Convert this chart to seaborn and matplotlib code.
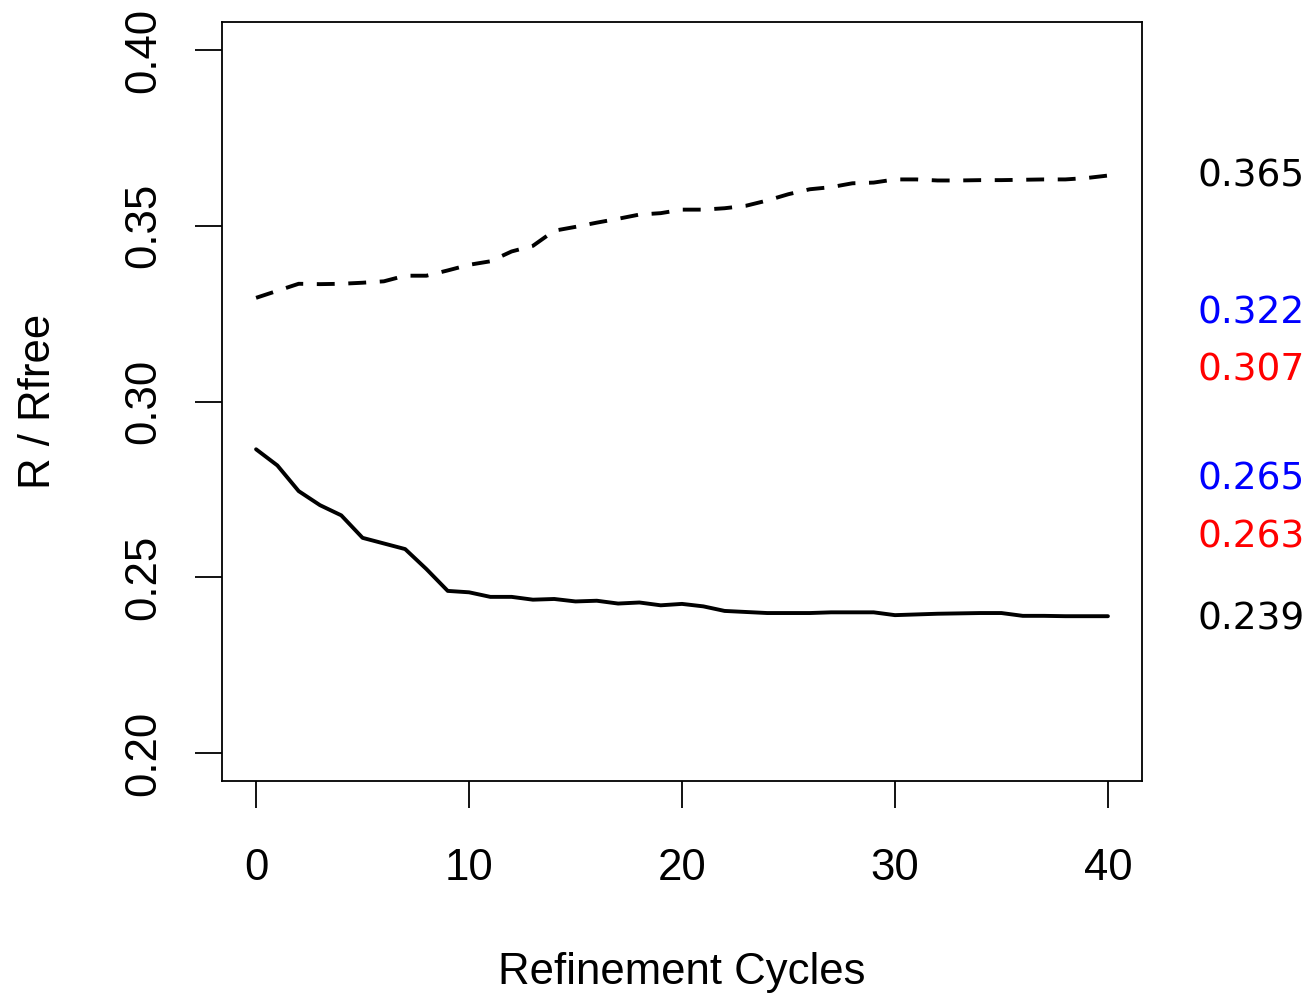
import matplotlib
matplotlib.use("Agg")
import matplotlib.pyplot as plt
import matplotlib.transforms as mtransforms
import seaborn as sns
import numpy as np
import pandas as pd

cycles = list(range(41))
r_work = [0.2864, 0.2818, 0.2745, 0.2705, 0.2676, 0.2612, 0.2596, 0.2580, 0.2523, 0.2461,
          0.2457, 0.2444, 0.2444, 0.2436, 0.2438, 0.2431, 0.2433, 0.2425, 0.2428, 0.2420,
          0.2424, 0.2417, 0.2404, 0.2401, 0.2398, 0.2398, 0.2398, 0.2400, 0.2400, 0.2400,
          0.2392, 0.2394, 0.2396, 0.2397, 0.2398, 0.2398, 0.2390, 0.2390, 0.2389, 0.2389,
          0.2389]
r_free = [0.3295, 0.3315, 0.3335, 0.3334, 0.3335, 0.3338, 0.3342, 0.3358, 0.3358, 0.3373,
          0.3389, 0.3399, 0.3427, 0.3443, 0.3486, 0.3497, 0.3509, 0.3520, 0.3532, 0.3536,
          0.3546, 0.3546, 0.3550, 0.3557, 0.3572, 0.3590, 0.3604, 0.3610, 0.3621, 0.3623,
          0.3632, 0.3632, 0.3629, 0.3629, 0.3630, 0.3630, 0.3631, 0.3632, 0.3632, 0.3636,
          0.3643]

side_labels = ["0.365", "0.322", "0.307", "0.265", "0.263", "0.239"]
side_colors = ["black", "blue", "red", "blue", "red", "black"]
side_ypos = [0.3640, 0.3251, 0.3089, 0.2779, 0.2614, 0.2381]

x_ticks = [0, 10, 20, 30, 40]
y_ticks = [0.20, 0.25, 0.30, 0.35, 0.40]
y_ticklabels = ["0.20", "0.25", "0.30", "0.35", "0.40"]

sns.set_theme(style="white")
plt.rcParams['font.family'] = ['Liberation Sans', 'DejaVu Sans']

df = pd.DataFrame({"cycle": cycles, "R": r_work, "Rfree": r_free})

fig = plt.figure(figsize=(13.1, 9.96), dpi=100)
ax = fig.add_axes([222/1310, 1 - 781/996, 920/1310, 759/996])

sns.lineplot(data=df, x="cycle", y="R", ax=ax, color="black", linewidth=2.8)
sns.lineplot(data=df, x="cycle", y="Rfree", ax=ax, color="black", linewidth=2.8)
ax.lines[-1].set_dashes((4.6, 3.5))

ax.set_xlim(-1.6, 41.6)
ax.set_ylim(0.192, 0.408)
ax.set_xticks(x_ticks)
ax.set_xticklabels([str(t) for t in x_ticks])
ax.set_yticks(y_ticks)
ax.set_yticklabels(y_ticklabels, rotation=90, va="center")

for s in ax.spines.values():
    s.set_visible(True)
    s.set_color("black")
    s.set_linewidth(1.3)

ax.tick_params(axis="both", which="both", direction="out", length=19.5, width=1.3,
               color="black", labelsize=31.5, labelcolor="black",
               bottom=True, left=True, top=False, right=False)
ax.tick_params(axis="x", pad=29)
ax.tick_params(axis="y", pad=22)

ax.set_xlabel("Refinement Cycles", fontsize=31.5, labelpad=45, color="black")
ax.set_ylabel("R / Rfree", fontsize=31.5, labelpad=46, color="black")

trans = mtransforms.blended_transform_factory(ax.transAxes, ax.transData)
for lab, col, yp in zip(side_labels, side_colors, side_ypos):
    ax.text(1.0598, yp, lab, transform=trans, color=col, fontsize=27,
            family=["DejaVu Sans"], ha="left", va="center", clip_on=False)

fig.savefig("out.png", dpi=100)
